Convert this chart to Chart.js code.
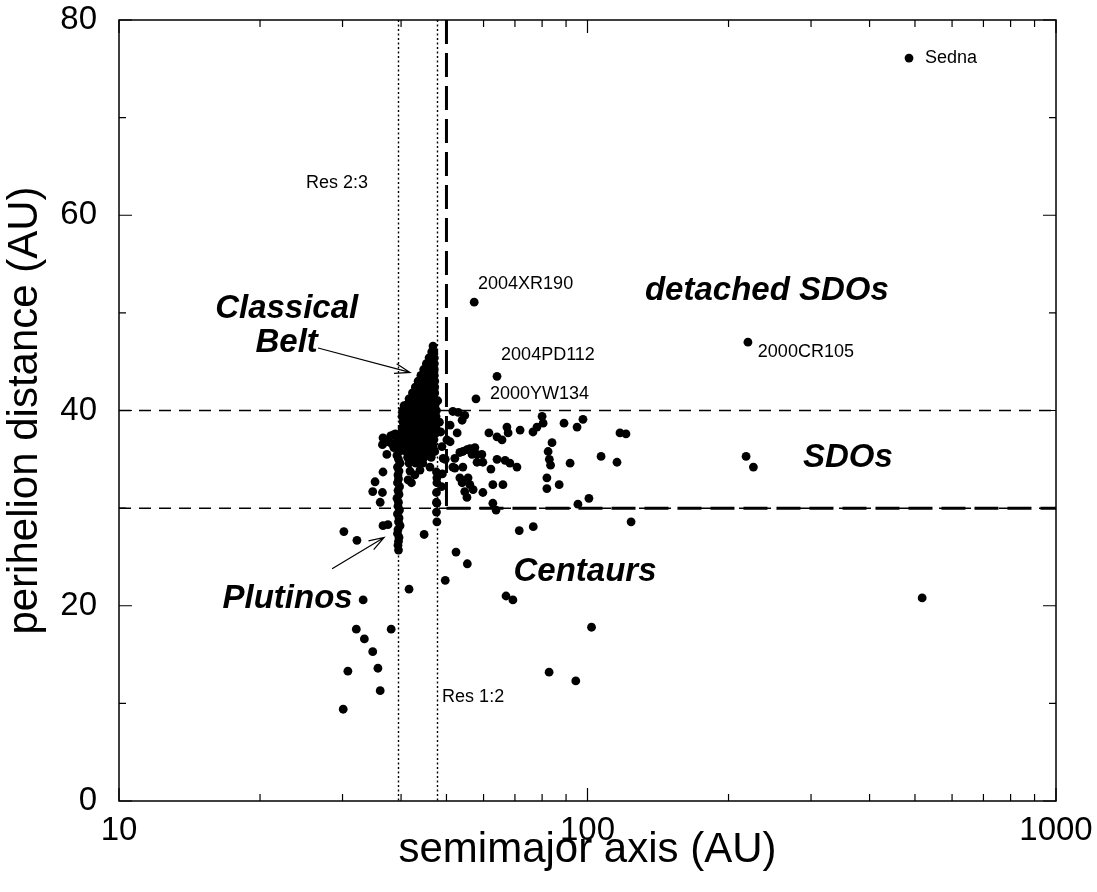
<!DOCTYPE html>
<html>
<head>
<meta charset="utf-8">
<script src="https://cdn.jsdelivr.net/npm/chart.js@4/dist/chart.umd.min.js"></script>
<style>
  html, body { margin: 0; padding: 0; background: #fff; }
  #wrap { width: 1097px; height: 892px; }
</style>
</head>
<body>
<div id="wrap"><canvas id="chart" width="1097" height="892"></canvas></div>
<script>
// [semimajor axis a (AU), perihelion q (AU)]
const classicalBelt = [
  [46.8,46.6],
  [46.5,46.0],[47.0,46.0],
  [45.9,45.4],[46.5,45.4],[47.1,45.4],
  [45.3,44.8],[45.9,44.8],[46.5,44.8],[47.1,44.8],
  [44.7,44.2],[45.3,44.2],[45.9,44.2],[46.5,44.2],[47.1,44.2],
  [44.1,43.6],[44.7,43.6],[45.3,43.6],[45.9,43.6],[46.5,43.6],[47.1,43.6],
  [43.5,43.0],[44.1,43.0],[44.7,43.0],[45.3,43.0],[45.9,43.0],[46.5,43.0],[47.2,43.0],
  [42.9,42.4],[43.5,42.4],[44.1,42.4],[44.7,42.4],[45.3,42.4],[45.9,42.4],[46.5,42.4],[47.2,42.4],
  [42.3,41.8],[42.9,41.8],[43.5,41.8],[44.1,41.8],[44.7,41.8],[45.3,41.8],[45.9,41.8],[46.5,41.8],[47.2,41.8],
  [41.6,41.2],[42.2,41.2],[42.8,41.2],[43.4,41.2],[44.0,41.2],[44.6,41.2],[45.2,41.2],[45.8,41.2],[46.4,41.2],[47.1,41.2],[47.9,41.0],
  [40.6,40.5],[41.2,40.6],[41.8,40.6],[42.4,40.6],[43.0,40.6],[43.6,40.6],[44.2,40.6],[44.8,40.6],[45.4,40.6],[46.0,40.6],[46.6,40.6],[47.3,40.6],
  [40.3,40.0],[40.9,40.0],[41.5,40.0],[42.1,40.0],[42.7,40.0],[43.3,40.0],[43.9,40.0],[44.5,40.0],[45.1,40.0],[45.7,40.0],[46.3,40.0],[46.9,40.0],[47.6,40.0],
  [40.2,39.4],[40.8,39.4],[41.4,39.4],[42.0,39.4],[42.6,39.4],[43.2,39.4],[43.8,39.4],[44.4,39.4],[45.0,39.4],[45.6,39.4],[46.2,39.4],[46.8,39.4],[47.5,39.4],
  [40.4,38.8],[41.0,38.8],[41.6,38.8],[42.2,38.8],[42.8,38.8],[43.4,38.8],[44.0,38.8],[44.6,38.8],[45.2,38.8],[45.8,38.8],[46.4,38.8],[47.1,38.8],[48.3,38.8],
  [40.2,38.2],[40.8,38.2],[41.4,38.2],[42.0,38.2],[42.6,38.2],[43.2,38.2],[43.8,38.2],[44.4,38.2],[45.0,38.2],[45.6,38.2],[46.2,38.2],[46.8,38.2],[47.5,38.2],
  [40.0,37.6],[40.6,37.6],[41.2,37.6],[41.8,37.6],[42.4,37.6],[43.0,37.6],[43.6,37.6],[44.2,37.6],[44.8,37.6],[45.4,37.6],[46.0,37.6],[46.6,37.6],[47.3,37.6],[48.6,37.8],
  [40.3,37.0],[40.9,37.0],[41.5,37.0],[42.1,37.0],[42.7,37.0],[43.3,37.0],[43.9,37.0],[44.5,37.0],[45.1,37.0],[45.7,37.0],[46.3,37.0],[47.0,37.0],
  [40.6,36.4],[41.3,36.4],[42.0,36.4],[42.8,36.4],[43.6,36.4],[44.4,36.4],[45.2,36.4],[46.0,36.4],[46.8,36.4],[48.9,36.3],
  [41.0,35.8],[41.9,35.8],[43.0,35.8],[44.0,35.8],[45.0,35.8],[46.0,35.8],[47.2,35.8],
  [41.3,35.2],[42.4,35.2],[43.6,35.2],[44.8,35.2],[46.4,35.2],[49.2,35.1],
  [41.6,34.6],[43.0,34.6],[44.5,34.6],[46.1,34.2],
  [41.8,33.8],[43.9,33.9],[42.8,33.4],
  [41.4,32.9],[42.1,32.6]
];

const plutinos = [
  [39.3,37.0],[39.6,36.6],[39.4,36.2],[39.7,35.8],[39.2,35.4],[39.5,35.0],[39.8,34.6],[39.3,34.2],
  [39.6,33.8],[39.4,33.4],[39.5,33.0],[39.3,32.6],[39.7,32.2],[39.4,31.8],[39.6,31.4],[39.2,31.0],
  [39.5,30.6],[39.4,30.2],[39.7,29.8],[39.3,29.4],[39.6,29.0],[39.5,28.6],[39.8,28.2],[39.4,27.8],
  [39.3,27.4],[39.6,27.0],[39.5,26.6],[39.4,26.2],[39.5,25.7],
  [38.5,37.5],[38.9,37.6],[38.0,37.4],[38.2,36.6],[37.3,36.8],[36.6,37.2],[36.5,36.5],[38.6,36.2],
  [37.3,35.5],[36.6,33.7],[35.2,32.7],[34.8,31.7],[36.5,31.6],[36.1,30.6]
];

const twoToOne = [
  [47.6,33.7],[47.7,33.1],[47.7,32.6],[47.6,31.6],[47.6,30.6],[47.7,30.5],[47.6,29.6],[47.7,28.6]
];

const scattered = [
  [51.6,39.9],[53.0,39.8],[54.7,39.5],[54.0,39.0],[50.9,38.5],[52.7,37.7],[50.1,37.0],[50.9,36.8],[49.7,35.0],
  [61.6,37.7],[64.1,37.3],[65.7,37.0],[67.3,38.3],[67.7,37.7],[71.8,38.0],[76.5,37.8],[78.0,38.3],
  [80.0,39.4],[80.4,38.7],[89.1,38.7],[95.0,38.3],[97.8,39.1],[117.3,37.7],[120.8,37.6],
  [84.0,36.7],[82.4,35.8],[82.9,35.0],[83.4,34.4],[81.9,33.1],[81.9,32.0],[87.0,32.4],[91.8,34.6],
  [106.9,35.3],[115.6,34.7],[100.7,31.0],[95.4,30.4],
  [53.4,35.7],[54.2,35.8],[55.3,36.0],[56.1,36.1],[57.5,36.2],[56.7,35.5],[58.1,35.5],[59.5,35.5],
  [59.8,34.7],[52.1,35.1],[52.1,34.1],[51.6,34.2],[54.2,34.2],[58.1,34.7],[64.1,35.0],[66.7,34.9],
  [68.3,34.6],[70.7,34.2],[62.2,34.0],
  [53.4,33.1],[54.0,32.6],[55.6,33.1],[56.1,32.4],[54.7,31.7],[55.3,31.1],[57.0,31.9],[59.8,31.6],
  [62.8,32.4],[66.0,32.4],[62.8,30.5],[63.8,29.8],[49.0,33.5],[48.8,32.2],
  [218,35.3],[226,34.2]
];

const centaurs = [
  [30.2,27.6],[32.2,26.7],[36.6,28.2],[37.5,28.3],[44.8,27.3],[52.4,25.5],[49.7,22.6],[41.6,21.7],
  [33.2,20.6],[55.4,24.3],[32.1,17.6],[38.1,17.6],[33.4,16.6],[34.8,15.3],[30.8,13.3],[35.7,13.6],
  [36.1,11.3],[30.1,9.4],[71.5,27.7],[76.6,28.1],[123.9,28.6],[102,17.8],[94.4,12.3],[82.8,13.2],
  [69.3,20.6],[67.0,21.0],[518,20.8]
];

// named detached objects
const namedObjects = ['Sedna', '2004XR190', '2004PD112', '2000YW134', '2000CR105'];
const namedPoints = [[485.6,76.1],[57.3,51.1],[64.1,43.5],[57.8,41.2],[220,47.0]];
const namedLabelAt = [[525,76.1],[58.4,53.0],[65.4,45.7],[61.9,41.7],[231,46.0]];

// resonances and region boundaries
const resonanceA = [39.4, 47.7];
const qBoundaries = [30, 40];
const detachedA = 50;

// axis ticks
const xLabelTicks = [10, 100, 1000];
const xMinorTicks = [20,30,40,50,60,70,80,90,200,300,400,500,600,700,800,900];
const yLabelTicks = [0, 20, 40, 60, 80];
const yMinorTicks = [10, 30, 50, 70];

const FONT = '"Liberation Sans", Arial, Helvetica, sans-serif';

const toXY = list => list.map(([a, q]) => ({ x: a, y: q }));
const allPoints = [].concat(classicalBelt, plutinos, twoToOne, scattered, centaurs, namedPoints);

const guidesPlugin = {
  id: 'guides',
  beforeDatasetsDraw(chart) {
    const { ctx, chartArea: { left, right, top, bottom }, scales: { x, y } } = chart;
    ctx.save();
    ctx.strokeStyle = '#000';

    // resonance lines, dotted
    ctx.lineWidth = 1.4;
    ctx.setLineDash([2, 2.5]);
    resonanceA.forEach(a => {
      const px = Math.round(x.getPixelForValue(a)) + 0.5;
      ctx.beginPath(); ctx.moveTo(px, top); ctx.lineTo(px, bottom); ctx.stroke();
    });

    // perihelion limits, short dashes
    ctx.lineWidth = 1.5;
    ctx.setLineDash([12, 8]);
    qBoundaries.forEach(q => {
      const py = y.getPixelForValue(q);
      ctx.beginPath(); ctx.moveTo(left, py); ctx.lineTo(right, py); ctx.stroke();
    });

    // detached / scattered boundary, long heavy dashes
    ctx.lineWidth = 3;
    ctx.setLineDash([24, 9]);
    const xa = x.getPixelForValue(detachedA);
    const yq = y.getPixelForValue(qBoundaries[0]);
    ctx.beginPath(); ctx.moveTo(xa, top); ctx.lineTo(xa, yq); ctx.stroke();
    ctx.beginPath(); ctx.moveTo(xa, yq); ctx.lineTo(right, yq); ctx.stroke();
    ctx.restore();
  }
};

function arrow(ctx, x0, y0, x1, y1) {
  const ang = Math.atan2(y1 - y0, x1 - x0);
  const len = 16, spread = 0.32;
  ctx.beginPath();
  ctx.moveTo(x0, y0); ctx.lineTo(x1, y1);
  ctx.moveTo(x1 - len * Math.cos(ang - spread), y1 - len * Math.sin(ang - spread));
  ctx.lineTo(x1, y1);
  ctx.lineTo(x1 - len * Math.cos(ang + spread), y1 - len * Math.sin(ang + spread));
  ctx.stroke();
}

const notesPlugin = {
  id: 'notes',
  afterDatasetsDraw(chart) {
    const { ctx, chartArea: { left, right, top, bottom }, scales: { x, y } } = chart;
    const P = (a, q) => [x.getPixelForValue(a), y.getPixelForValue(q)];
    ctx.save();
    ctx.fillStyle = '#000';
    ctx.strokeStyle = '#000';

    // frame with inward ticks
    ctx.lineWidth = 1.5;
    ctx.strokeRect(left, top, right - left, bottom - top);
    ctx.lineWidth = 1.2;
    ctx.beginPath();
    const xTick = (v, len) => {
      const px = x.getPixelForValue(v);
      ctx.moveTo(px, bottom); ctx.lineTo(px, bottom - len);
      ctx.moveTo(px, top); ctx.lineTo(px, top + len);
    };
    const yTick = (v, len) => {
      const py = y.getPixelForValue(v);
      ctx.moveTo(left, py); ctx.lineTo(left + len, py);
      ctx.moveTo(right, py); ctx.lineTo(right - len, py);
    };
    xLabelTicks.forEach(v => xTick(v, 13));
    xMinorTicks.forEach(v => xTick(v, 7));
    yLabelTicks.forEach(v => yTick(v, 13));
    yMinorTicks.forEach(v => yTick(v, 7));
    ctx.stroke();

    // region names
    ctx.font = 'italic bold 33px ' + FONT;
    ctx.textAlign = 'center';
    ctx.textBaseline = 'middle';
    ctx.fillText('Classical', ...P(22.8, 50.4));
    ctx.fillText('Belt', ...P(22.8, 46.9));
    ctx.fillText('detached SDOs', ...P(241.5, 52.3));
    ctx.fillText('SDOs', ...P(359.5, 35.1));
    ctx.fillText('Centaurs', ...P(98.8, 23.5));
    ctx.fillText('Plutinos', ...P(22.9, 20.7));

    // resonance names
    ctx.font = '18px ' + FONT;
    ctx.fillText('Res 2:3', ...P(29.2, 63.3));
    ctx.fillText('Res 1:2', ...P(57.0, 10.6));

    // object names
    ctx.textAlign = 'left';
    ctx.font = '18px ' + FONT;
    namedObjects.forEach((name, i) => {
      ctx.fillText(name, ...P(namedLabelAt[i][0], namedLabelAt[i][1]));
    });

    // pointer arrows
    ctx.lineWidth = 1.2;
    arrow(ctx, ...P(26.6, 46.4), ...P(41.8, 43.9));
    arrow(ctx, ...P(28.5, 23.8), ...P(36.8, 27.0));
    ctx.restore();
  }
};

new Chart(document.getElementById('chart'), {
  type: 'scatter',
  data: {
    datasets: [{
      data: toXY(allPoints),
      pointRadius: 4.4,
      pointHoverRadius: 4.4,
      backgroundColor: '#000',
      borderWidth: 0
    }]
  },
  options: {
    responsive: false,
    animation: false,
    layout: { padding: { left: 0, right: 41, top: 20, bottom: 0 } },
    plugins: { legend: { display: false }, tooltip: { enabled: false } },
    scales: {
      x: {
        type: 'logarithmic',
        min: 10,
        max: 1000,
        grid: { display: false, drawTicks: false },
        border: { display: false },
        ticks: {
          autoSkip: false,
          maxRotation: 0,
          padding: 10,
          color: '#000',
          font: { family: FONT, size: 33 },
          callback: v => xLabelTicks.includes(Math.round(v)) ? String(Math.round(v)) : ''
        },
        title: {
          display: true,
          text: 'semimajor axis (AU)',
          color: '#000',
          font: { family: FONT, size: 42 },
          padding: { top: 0, bottom: 16 }
        },
        afterFit: s => {
          s.height = 91;
          s.paddingLeft = 0; s.paddingRight = 0;
        }
      },
      y: {
        min: 0,
        max: 80,
        grid: { display: false, drawTicks: false },
        border: { display: false },
        ticks: {
          stepSize: 10,
          padding: 22,
          color: '#000',
          font: { family: FONT, size: 33 },
          callback: v => yLabelTicks.includes(v) ? String(v) : ''
        },
        title: {
          display: true,
          text: 'perihelion distance (AU)',
          color: '#000',
          font: { family: FONT, size: 42 },
          padding: { top: 0, bottom: 0 }
        },
        afterFit: s => {
          s.width = 119;
          s.paddingTop = 0; s.paddingBottom = 0;
        }
      }
    }
  },
  plugins: [guidesPlugin, notesPlugin]
});
</script>
</body>
</html>
